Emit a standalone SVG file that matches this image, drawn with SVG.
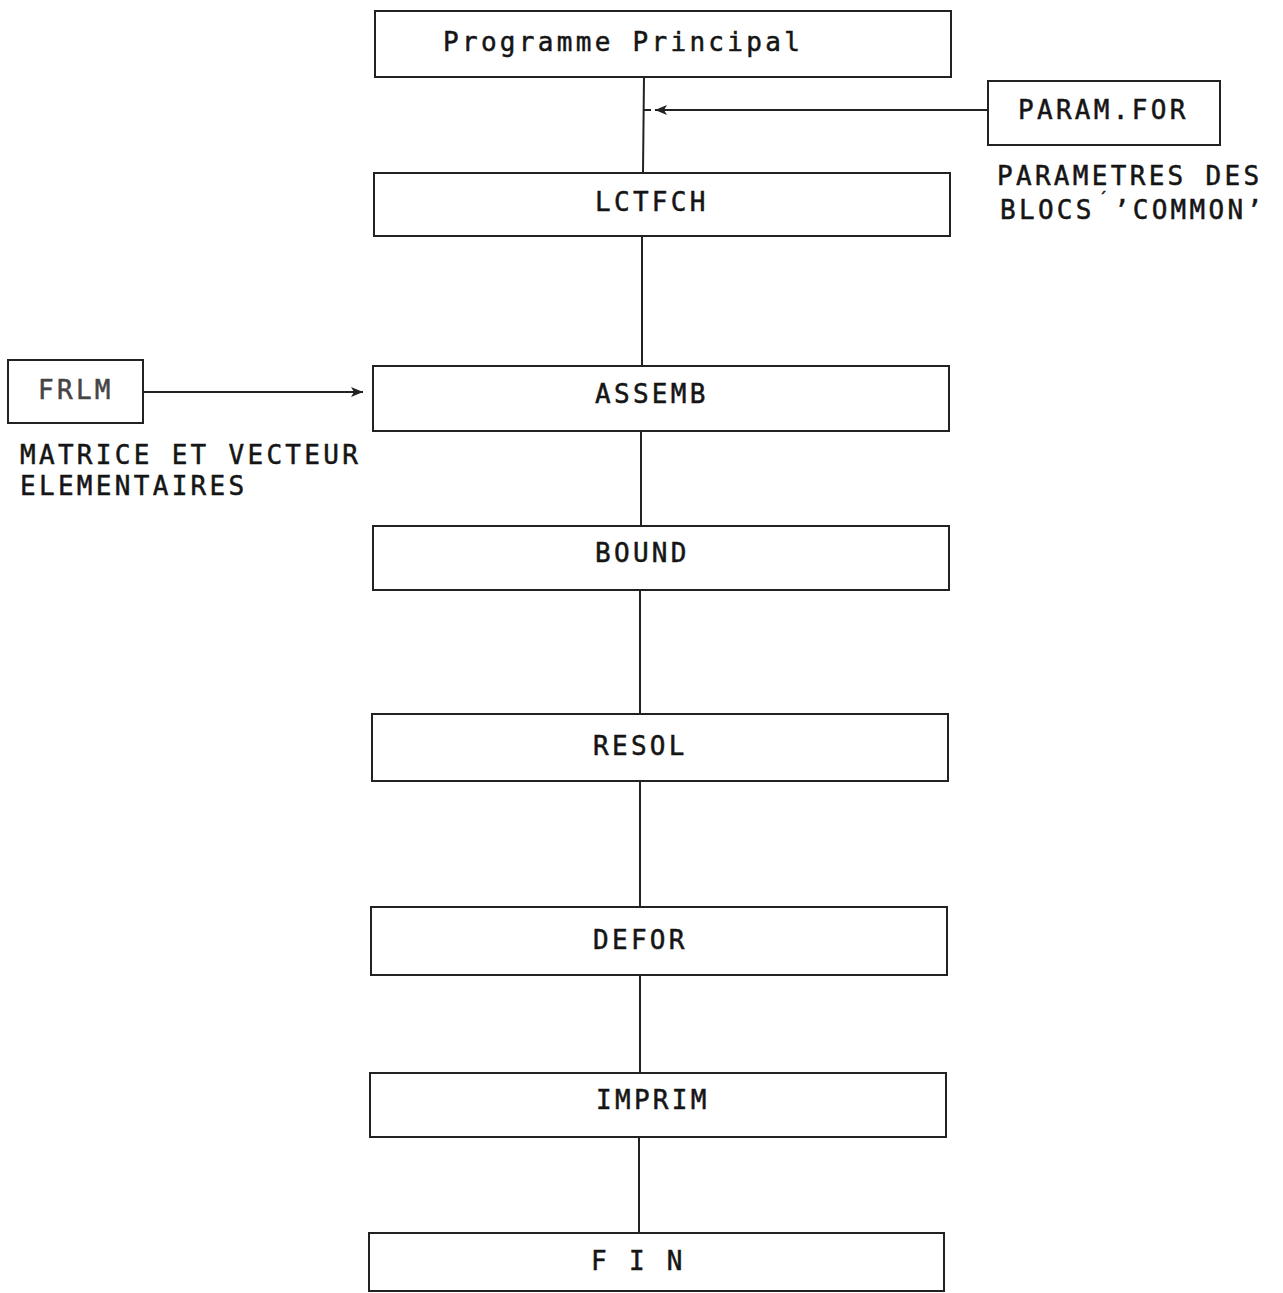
<svg xmlns="http://www.w3.org/2000/svg" width="1283" height="1293" viewBox="0 0 1283 1293">
<style>
.box{fill:#fff;stroke:#222;stroke-width:2}
.t{font-family:"DejaVu Sans Mono","Liberation Mono",monospace;font-size:26px;letter-spacing:3.3px;fill:#151515;stroke:#151515;stroke-width:0.5}
.c{stroke:#222;stroke-width:2;fill:none}
</style>
<defs>
<marker id="ah" markerWidth="13" markerHeight="12" refX="12" refY="6" orient="auto" markerUnits="userSpaceOnUse">
<path d="M0,1 L12,6 L0,11 L3,6 Z" fill="#222"/>
</marker>
</defs>
<rect width="1283" height="1293" fill="#fff"/>
<g id="connectors">
<line class="c" x1="644" y1="77" x2="643" y2="172"/>
<line class="c" x1="642" y1="236" x2="642" y2="366"/>
<line class="c" x1="641" y1="431" x2="641" y2="526"/>
<line class="c" x1="640" y1="590" x2="640" y2="713"/>
<line class="c" x1="640" y1="781" x2="640" y2="906"/>
<line class="c" x1="640" y1="975" x2="640" y2="1072"/>
<line class="c" x1="639" y1="1137" x2="639" y2="1233"/>
<line class="c" x1="988" y1="110" x2="655" y2="110" marker-end="url(#ah)"/>
<line class="c" x1="644" y1="110" x2="651" y2="110"/>
<line class="c" x1="143" y1="392" x2="363" y2="392" marker-end="url(#ah)"/>
</g>
<g id="programme-principal">
<rect class="box" x="375" y="11" width="576" height="66"/>
<text class="t" x="443" y="51">Programme Principal</text>
</g>
<g id="param-for">
<rect class="box" x="988" y="81" width="232" height="64"/>
<text class="t" x="1018" y="119">PARAM.FOR</text>
<text class="t" x="997" y="185">PARAMETRES DES</text>
<text class="t" x="1000" y="219">BLOCS ’COMMON’</text>
<text class="t" x="1098" y="204" style="font-size:16px;letter-spacing:0">´</text>
</g>
<g id="lctfch">
<rect class="box" x="374" y="173" width="576" height="63"/>
<text class="t" x="595" y="211">LCTFCH</text>
</g>
<g id="frlm">
<rect class="box" x="8" y="360" width="135" height="63"/>
<text class="t" x="38" y="399" style="fill:#444;stroke:#444">FRLM</text>
<text class="t" x="20" y="464">MATRICE ET VECTEUR</text>
<text class="t" x="20" y="495">ELEMENTAIRES</text>
</g>
<g id="assemb">
<rect class="box" x="373" y="366" width="576" height="65"/>
<text class="t" x="595" y="403">ASSEMB</text>
</g>
<g id="bound">
<rect class="box" x="373" y="526" width="576" height="64"/>
<text class="t" x="595" y="562">BOUND</text>
</g>
<g id="resol">
<rect class="box" x="372" y="714" width="576" height="67"/>
<text class="t" x="593" y="755">RESOL</text>
</g>
<g id="defor">
<rect class="box" x="371" y="907" width="576" height="68"/>
<text class="t" x="593" y="949">DEFOR</text>
</g>
<g id="imprim">
<rect class="box" x="370" y="1073" width="576" height="64"/>
<text class="t" x="596" y="1109">IMPRIM</text>
</g>
<g id="fin">
<rect class="box" x="369" y="1233" width="575" height="58"/>
<text class="t" x="591" y="1270">F I N</text>
</g>
</svg>
